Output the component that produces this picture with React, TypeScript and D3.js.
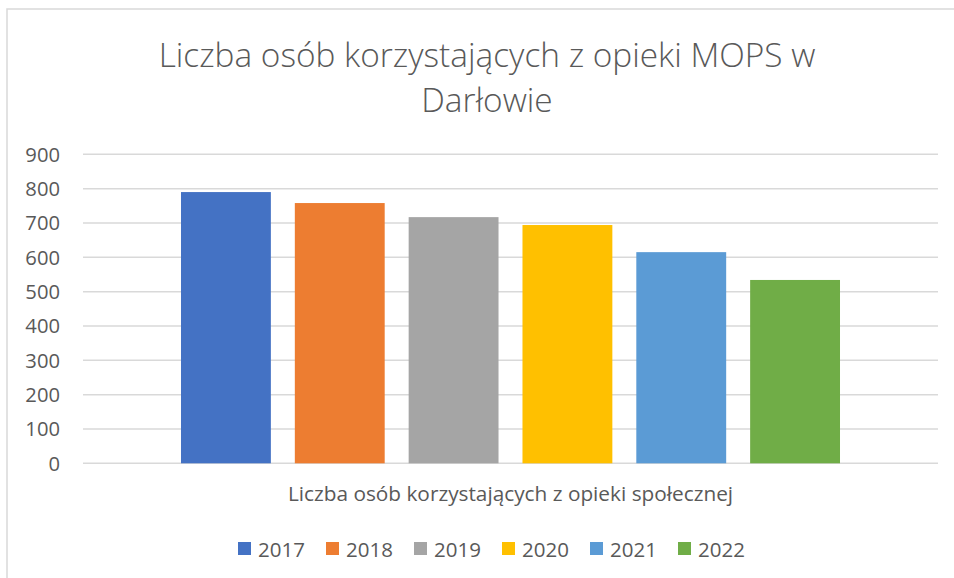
import React, { useRef, useEffect } from "react";
import * as d3 from "d3";

const years = ["2017", "2018", "2019", "2020", "2021", "2022"];
const values = [790, 758, 717, 694, 615, 534];
const colors = ["#4472C4", "#ED7D31", "#A5A5A5", "#FFC000", "#5B9BD5", "#70AD47"];
const category = "Liczba osób korzystających z opieki społecznej";
const titleLines = ["Liczba osób korzystających z opieki MOPS w", "Darłowie"];
const yTicks = [0, 100, 200, 300, 400, 500, 600, 700, 800, 900];

const App = () => {
  const chartRef = useRef<SVGSVGElement>(null);

  useEffect(() => {
    document.body.style.margin = "0";
    const plot = { left: 83, right: 938, top: 154.3, bottom: 463.3 };
    const font = "'Open Sans', 'Noto Sans', sans-serif";
    const textColor = "#595959";

    const svg = d3.select(chartRef.current);
    svg.selectAll("*").remove();

    svg
      .append("rect")
      .attr("x", 7)
      .attr("y", 9)
      .attr("width", 1000)
      .attr("height", 700)
      .attr("fill", "#fff")
      .attr("stroke", "#d9d9d9")
      .attr("stroke-width", 1.5);

    // title
    svg
      .append("g")
      .selectAll("text")
      .data(titleLines)
      .enter()
      .append("text")
      .attr("x", 487)
      .attr("y", (d, i) => 67 + i * 45)
      .attr("text-anchor", "middle")
      .attr("font-family", font)
      .attr("font-weight", 300)
      .attr("font-size", 33.4)
      .attr("fill", textColor)
      .text((d) => d);

    const y = d3.scaleLinear().domain([0, 900]).range([plot.bottom, plot.top]);

    const x0 = d3
      .scaleBand()
      .domain([category])
      .range([plot.left, plot.right])
      .paddingOuter(0.1487)
      .paddingInner(0);
    const x1 = d3
      .scaleBand()
      .domain(years)
      .range([0, x0.bandwidth()])
      .paddingInner(0.2105);

    // grid
    svg
      .append("g")
      .selectAll("line")
      .data(yTicks)
      .enter()
      .append("line")
      .attr("x1", plot.left)
      .attr("x2", plot.right)
      .attr("y1", (d) => y(d))
      .attr("y2", (d) => y(d))
      .attr("stroke", "#d9d9d9")
      .attr("stroke-width", 1.5);

    // y labels
    svg
      .append("g")
      .selectAll("text")
      .data(yTicks)
      .enter()
      .append("text")
      .attr("x", 60)
      .attr("y", (d) => y(d))
      .attr("dy", "0.36em")
      .attr("text-anchor", "end")
      .attr("font-family", font)
      .attr("font-size", 20.2)
      .attr("fill", textColor)
      .text((d) => d);

    // bars
    const group = svg
      .append("g")
      .attr("transform", `translate(${x0(category)},0)`);
    group
      .selectAll("rect")
      .data(values)
      .enter()
      .append("rect")
      .attr("x", (d, i) => x1(years[i]))
      .attr("y", (d) => y(d))
      .attr("width", x1.bandwidth())
      .attr("height", (d) => y(0) - y(d))
      .attr("fill", (d, i) => colors[i]);

    // category label
    svg
      .append("text")
      .attr("x", (plot.left + plot.right) / 2)
      .attr("y", 501)
      .attr("text-anchor", "middle")
      .attr("font-family", font)
      .attr("font-size", 20.8)
      .attr("fill", textColor)
      .text(category);

    // legend
    const itemStep = 88;
    const legendLeft = 238;
    const legend = svg
      .append("g")
      .selectAll("g")
      .data(years)
      .enter()
      .append("g")
      .attr("transform", (d, i) => `translate(${legendLeft + i * itemStep},542)`);
    legend
      .append("rect")
      .attr("width", 13)
      .attr("height", 13)
      .attr("fill", (d, i) => colors[i]);
    legend
      .append("text")
      .attr("x", 20)
      .attr("y", 14.5)
      .attr("font-family", font)
      .attr("font-size", 20.5)
      .attr("fill", textColor)
      .text((d) => d);
  }, []);

  return (
    <svg
      ref={chartRef}
      width={954}
      height={578}
      style={{ position: "absolute", left: 0, top: 0, display: "block" }}
    />
  );
};

export default App;
